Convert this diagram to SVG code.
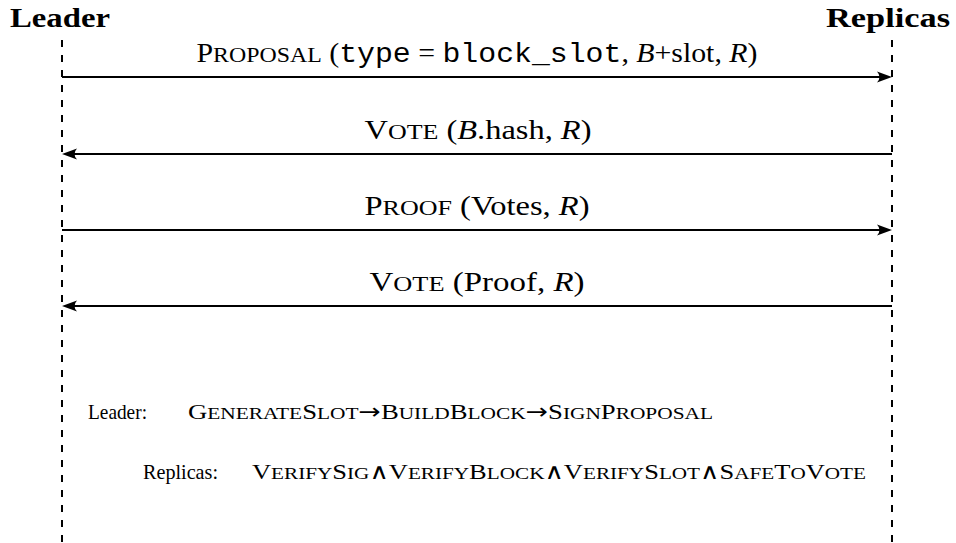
<svg xmlns="http://www.w3.org/2000/svg" width="956" height="543" viewBox="0 0 956 543">
<defs>
<style>
text{font-family:"Liberation Serif","DejaVu Serif",serif;fill:#000}
.title{font-size:28px;font-weight:bold}
.lbl{font-size:27px;text-anchor:middle}
.s{font-size:80%}
.tt{font-family:"Liberation Mono","DejaVu Sans Mono",monospace}
.it{font-style:italic}
.arr{font-family:"DejaVu Sans",sans-serif}
.wedge{font-family:"Liberation Serif","DejaVu Sans",serif}
.note{font-size:22px}
.life{stroke:#000;stroke-width:2;stroke-dasharray:7 8;fill:none}
.msg{stroke:#000;stroke-width:2;fill:none;marker-end:url(#ah)}
</style>
<marker id="ah" viewBox="-16 -6 16 12" refX="-8" refY="0" markerWidth="16" markerHeight="12" markerUnits="userSpaceOnUse" orient="auto">
<path d="M0,0 L-15,-5.5 Q-10,0 -15,5.5 Z" fill="#000"/>
</marker>
</defs>
<g id="leader">
<text class="title" x="10" y="27" textLength="100" lengthAdjust="spacingAndGlyphs">Leader</text>
<line class="life" x1="62" y1="40" x2="62" y2="543"/>
</g>
<g id="replicas">
<text class="title" x="826" y="27" textLength="124" lengthAdjust="spacingAndGlyphs">Replicas</text>
<line class="life" x1="892" y1="40" x2="892" y2="543"/>
</g>
<g id="connectors">
<line class="msg" x1="62" y1="77" x2="884" y2="77"/>
<line class="msg" x1="892" y1="154" x2="70" y2="154"/>
<line class="msg" x1="62" y1="230" x2="884" y2="230"/>
<line class="msg" x1="892" y1="306" x2="70" y2="306"/>
</g>
<g id="labels">
<text class="lbl" x="477" y="62" textLength="561" lengthAdjust="spacingAndGlyphs">P<tspan class="s">ROPOSAL</tspan> (<tspan class="tt">type</tspan> = <tspan class="tt">block_slot</tspan>, <tspan class="it">B</tspan>+slot, <tspan class="it">R</tspan>)</text>
<text class="lbl" x="478" y="139" textLength="227" lengthAdjust="spacingAndGlyphs">V<tspan class="s">OTE</tspan> (<tspan class="it">B</tspan>.hash, <tspan class="it">R</tspan>)</text>
<text class="lbl" x="477" y="215" textLength="225" lengthAdjust="spacingAndGlyphs">P<tspan class="s">ROOF</tspan> (Votes, <tspan class="it">R</tspan>)</text>
<text class="lbl" x="477" y="291" textLength="215" lengthAdjust="spacingAndGlyphs">V<tspan class="s">OTE</tspan> (Proof, <tspan class="it">R</tspan>)</text>
</g>
<g id="notes">
<text class="note" x="88" y="419" textLength="59" lengthAdjust="spacingAndGlyphs">Leader:</text>
<text class="note" x="188" y="419" textLength="525" lengthAdjust="spacingAndGlyphs">G<tspan class="s">ENERATE</tspan>S<tspan class="s">LOT</tspan><tspan class="arr">→</tspan>B<tspan class="s">UILD</tspan>B<tspan class="s">LOCK</tspan><tspan class="arr">→</tspan>S<tspan class="s">IGN</tspan>P<tspan class="s">ROPOSAL</tspan></text>
<text class="note" x="143" y="479" textLength="75" lengthAdjust="spacingAndGlyphs">Replicas:</text>
<text class="note" x="252" y="479" textLength="614" lengthAdjust="spacingAndGlyphs">V<tspan class="s">ERIFY</tspan>S<tspan class="s">IG</tspan><tspan class="wedge">∧</tspan>V<tspan class="s">ERIFY</tspan>B<tspan class="s">LOCK</tspan><tspan class="wedge">∧</tspan>V<tspan class="s">ERIFY</tspan>S<tspan class="s">LOT</tspan><tspan class="wedge">∧</tspan>S<tspan class="s">AFE</tspan>T<tspan class="s">O</tspan>V<tspan class="s">OTE</tspan></text>
</g>
</svg>
